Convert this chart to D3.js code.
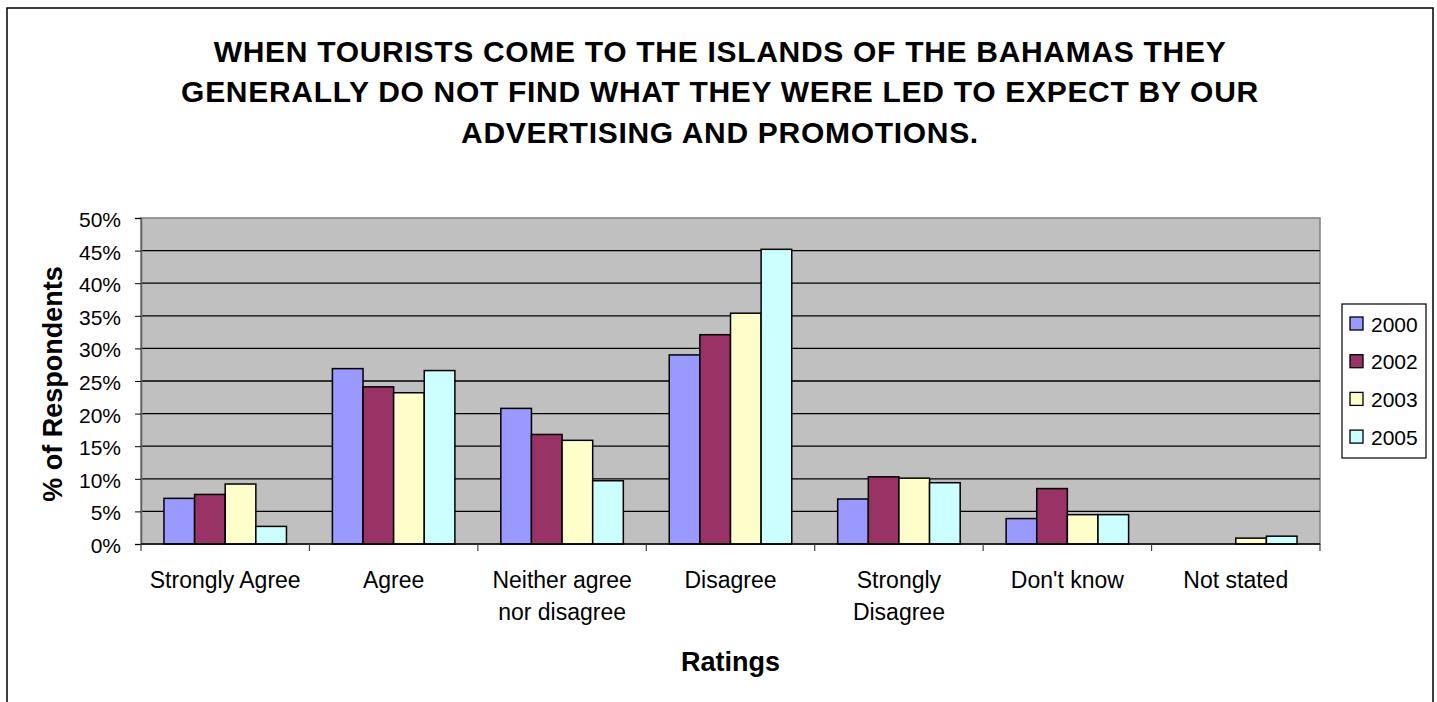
<!DOCTYPE html>
<html>
<head>
<meta charset="utf-8">
<script src="https://cdn.jsdelivr.net/npm/d3@7"></script>
<style>
  html, body { margin: 0; padding: 0; background: #ffffff; }
  svg { display: block; font-family: "Liberation Sans", Arial, sans-serif; }
</style>
</head>
<body>
<svg id="chart" width="1437" height="702"></svg>
<script>
// Survey responses by rating, per survey year (% of respondents)
const categories = [
  ["Strongly Agree"],
  ["Agree"],
  ["Neither agree", "nor disagree"],
  ["Disagree"],
  ["Strongly", "Disagree"],
  ["Don't know"],
  ["Not stated"]
];
const years = ["2000", "2002", "2003", "2005"];
const values2000 = [7.0, 26.9, 20.8, 29.0, 6.9, 3.9, null];
const values2002 = [7.6, 24.1, 16.8, 32.1, 10.3, 8.5, null];
const values2003 = [9.2, 23.2, 15.9, 35.4, 10.1, 4.5, 0.9];
const values2005 = [2.7, 26.6, 9.7, 45.2, 9.4, 4.5, 1.2];
const yTicks = [0, 5, 10, 15, 20, 25, 30, 35, 40, 45, 50];
const titleLines = [
  "WHEN TOURISTS COME TO THE ISLANDS OF THE BAHAMAS THEY",
  "GENERALLY DO NOT FIND WHAT THEY WERE LED TO EXPECT BY OUR",
  "ADVERTISING AND PROMOTIONS."
];

const seriesValues = [values2000, values2002, values2003, values2005];
const colors = ["#9999FF", "#993366", "#FFFFCC", "#CCFFFF"];

const svg = d3.select("#chart");
const plot = { left: 141, right: 1320, top: 218, bottom: 544 };

// outer chart frame
svg.append("rect")
  .attr("x", 7).attr("y", 8)
  .attr("width", 1426).attr("height", 720)
  .attr("fill", "#fff").attr("stroke", "#000").attr("stroke-width", 1.5);

// title
svg.append("g").selectAll("text")
  .data(titleLines)
  .join("text")
  .attr("x", 720)
  .attr("y", (d, i) => 62 + i * 40.3)
  .attr("text-anchor", "middle")
  .attr("font-size", 30)
  .attr("font-weight", "bold")
  .attr("letter-spacing", 0.7)
  .attr("fill", "#000")
  .text(d => d);

const catNames = categories.map(c => c.join(" "));
const x = d3.scaleBand().domain(catNames).range([plot.left, plot.right]).padding(0);
const step = x.bandwidth();
const barW = step / 5.5;
const xSub = d3.scaleBand().domain(years)
  .range([0.75 * barW, step - 0.75 * barW]).padding(0);
const y = d3.scaleLinear().domain([0, 50]).range([plot.bottom, plot.top]);

// plot background
svg.append("rect")
  .attr("x", plot.left).attr("y", plot.top)
  .attr("width", plot.right - plot.left).attr("height", plot.bottom - plot.top)
  .attr("fill", "#C0C0C0").attr("stroke", "#808080").attr("stroke-width", 1.5);

// horizontal gridlines
svg.append("g").selectAll("line")
  .data(yTicks.filter(t => t > 0 && t < 50))
  .join("line")
  .attr("x1", plot.left).attr("x2", plot.right)
  .attr("y1", d => y(d)).attr("y2", d => y(d))
  .attr("stroke", "#000").attr("stroke-width", 1.3);

// y axis
const yAxis = d3.axisLeft(y).tickValues(yTicks).tickFormat(d => d + "%").tickSize(6).tickPadding(14);
const yg = svg.append("g").attr("transform", `translate(${plot.left},0)`).call(yAxis);
yg.select(".domain").attr("stroke", "#606060").attr("stroke-width", 1.5);
yg.selectAll(".tick line").attr("stroke", "#000");
yg.selectAll(".tick text")
  .attr("font-size", 21).attr("fill", "#000")
  .attr("font-family", "Liberation Sans, Arial, sans-serif")
  .attr("dy", "0.4em");

// bars
const groups = svg.append("g").selectAll("g")
  .data(years)
  .join("g")
  .attr("fill", (d, i) => colors[i]);
groups.each(function (yr, si) {
  const rows = catNames.map((c, ci) => ({ cat: c, v: seriesValues[si][ci] }))
    .filter(r => r.v !== null);
  d3.select(this).selectAll("rect")
    .data(rows)
    .join("rect")
    .attr("x", r => x(r.cat) + xSub(yr))
    .attr("y", r => y(r.v))
    .attr("width", xSub.bandwidth())
    .attr("height", r => y(0) - y(r.v))
    .attr("stroke", "#000")
    .attr("stroke-width", 1.5);
});

// x axis
svg.append("line")
  .attr("x1", plot.left).attr("x2", plot.right)
  .attr("y1", plot.bottom).attr("y2", plot.bottom)
  .attr("stroke", "#000").attr("stroke-width", 1.3);
const xTickPos = catNames.map(c => x(c)).concat([plot.right]);
svg.append("g").selectAll("line")
  .data(xTickPos)
  .join("line")
  .attr("x1", d => d).attr("x2", d => d)
  .attr("y1", plot.bottom).attr("y2", plot.bottom + 7)
  .attr("stroke", "#404040").attr("stroke-width", 1.2);

const xLabels = svg.append("g").selectAll("text")
  .data(categories)
  .join("text")
  .attr("x", (d, i) => x(catNames[i]) + step / 2)
  .attr("y", 588)
  .attr("text-anchor", "middle")
  .attr("font-size", 23)
  .attr("fill", "#000");
xLabels.each(function (lines) {
  d3.select(this).selectAll("tspan")
    .data(lines)
    .join("tspan")
    .attr("x", d3.select(this).attr("x"))
    .attr("dy", (d, i) => i === 0 ? 0 : 31.7)
    .text(d => d);
});

// axis titles
svg.append("text")
  .attr("x", (plot.left + plot.right) / 2)
  .attr("y", 671)
  .attr("text-anchor", "middle")
  .attr("font-size", 27)
  .attr("font-weight", "bold")
  .text("Ratings");

svg.append("text")
  .attr("transform", `translate(62, 384) rotate(-90)`)
  .attr("text-anchor", "middle")
  .attr("font-size", 27)
  .attr("font-weight", "bold")
  .text("% of Respondents");

// legend
const legend = svg.append("g");
legend.append("rect")
  .attr("x", 1342).attr("y", 304)
  .attr("width", 84).attr("height", 154)
  .attr("fill", "#fff").attr("stroke", "#000").attr("stroke-width", 1.2);
const items = legend.selectAll("g.item")
  .data(years)
  .join("g")
  .attr("class", "item")
  .attr("transform", (d, i) => `translate(1350, ${324 + i * 37.7})`);
items.append("rect")
  .attr("x", 0).attr("y", -7)
  .attr("width", 13).attr("height", 13)
  .attr("fill", (d, i) => colors[i])
  .attr("stroke", "#000").attr("stroke-width", 1.3);
items.append("text")
  .attr("x", 21).attr("y", 0)
  .attr("dy", "0.36em")
  .attr("font-size", 21)
  .text(d => d);
</script>
</body>
</html>
